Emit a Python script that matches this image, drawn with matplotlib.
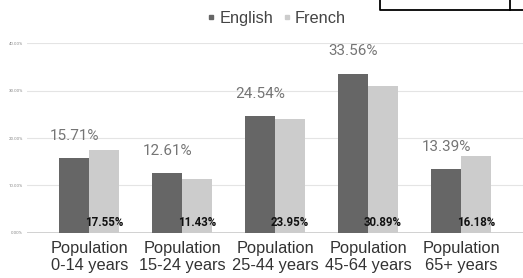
import numpy as np
import matplotlib
matplotlib.use('Agg')
from matplotlib import pyplot as plt
from matplotlib.lines import Line2D

plt.rcParams['font.family'] = ['Roboto', 'DejaVu Sans']

groups = ['Population\n0-14 years', 'Population\n15-24 years', 'Population\n25-44 years',
          'Population\n45-64 years', 'Population\n65+ years']
english = [15.71, 12.61, 24.54, 33.56, 13.39]
french = [17.55, 11.43, 23.95, 30.89, 16.18]
yticks = [0, 10, 20, 30, 40]

c_en = '#666666'
c_fr = '#cccccc'

fig = plt.figure(figsize=(5.23, 2.78), dpi=100)
ax = fig.add_axes([0.052, 0.162, 0.948, 0.683])

x = np.arange(len(groups))
w = 0.32
b1 = ax.bar(x - w / 2, english, w, color=c_en, zorder=2)
b2 = ax.bar(x + w / 2, french, w, color=c_fr, zorder=2)

for rect, v in zip(b1, english):
    ax.annotate(f'{v:.2f}%', (rect.get_x() + rect.get_width() / 2, v),
                xytext=(0, 16), textcoords='offset points', ha='center', va='center',
                fontsize=11, color='#757575')
for rect, v in zip(b2, french):
    ax.annotate(f'{v:.2f}%', (rect.get_x() + rect.get_width() / 2, 0),
                xytext=(0, 7.5), textcoords='offset points', ha='center', va='center',
                fontsize=8.3, fontweight='bold', color='#111111', zorder=3)

ax.set_xlim(-0.667, 4.667)
ax.set_ylim(0, 40)
ax.set_yticks(yticks)
ax.set_yticklabels([f'{t:.2f}%' for t in yticks], fontsize=3.2, color='#888888')
ax.set_xticks(x)
ax.set_xticklabels(groups, fontsize=11.8, color='#333333', linespacing=1.12,
                   family=['Liberation Sans', 'DejaVu Sans'])
ax.tick_params(axis='both', length=0)
ax.tick_params(axis='x', pad=6)
ax.tick_params(axis='y', pad=3)
ax.grid(axis='y', color='#e4e4e4', lw=0.8, zorder=0)
ax.axhline(0, color='#c8c8c8', lw=1.2, zorder=1)
for s in ax.spines.values():
    s.set_visible(False)

handles = [Line2D([], [], marker='s', ls='', color=c_en, markersize=3),
           Line2D([], [], marker='s', ls='', color=c_fr, markersize=3)]
fig.legend(handles, ['English', 'French'], loc='center', bbox_to_anchor=(0.525, 0.935),
           ncol=2, frameon=False, handletextpad=0.0, columnspacing=0.3,
           handlelength=1.0, labelcolor='#444444',
           prop={'family': ['Liberation Sans', 'DejaVu Sans'], 'size': 11.8})

# box fragment at top right
fig.add_artist(Line2D([380 / 523, 380 / 523, 1.0], [1.0, 1 - 10 / 278, 1 - 10 / 278],
                      color='black', lw=1.3))
fig.add_artist(Line2D([510 / 523, 510 / 523], [1.0, 1 - 10 / 278], color='black', lw=1.3))

fig.savefig('out.png', dpi=100)
